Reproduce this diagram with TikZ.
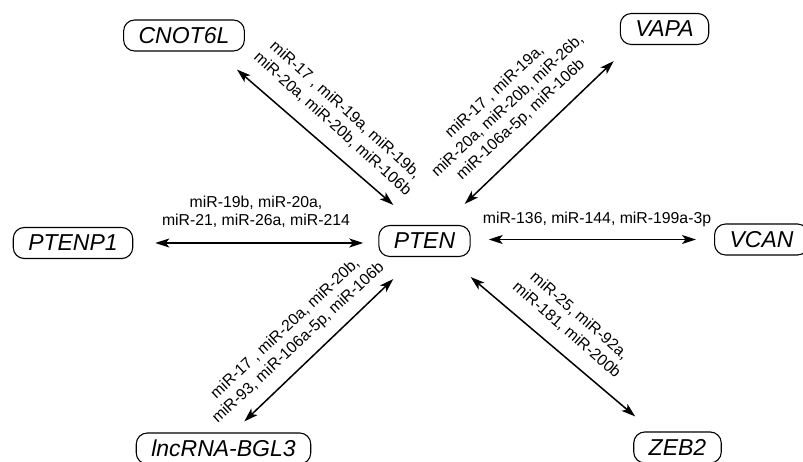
\documentclass[tikz,border=0pt]{standalone}
\usepackage{fontspec}
\setmainfont{Liberation Sans}
\usetikzlibrary{arrows.meta,calc}
\begin{document}
\begin{tikzpicture}[x=1pt,y=-1pt,
  gene/.style={draw, line width=1.1pt, rounded corners=11pt, minimum height=31pt,
    inner xsep=15pt, inner ysep=0pt, font=\fontsize{23}{23}\selectfont\itshape},
  tip/.tip={Stealth[length=14pt,width=9pt,inset=3.5pt]},
  link/.style={line width=1.5pt, tip-tip},
  mir/.style={font=\fontsize{15.8}{18}\selectfont, align=center, inner sep=0pt},
  rmir/.style={mir, font=\fontsize{15.8}{19}\selectfont}]
\path[use as bounding box] (0,0) rectangle (803,462);

\node[gene] (CNOT6L) at (184,35.5) {CNOT6L};
\node[gene] (VAPA) at (664.5,29) {VAPA};
\node[gene] (PTENP1) at (73,243) {PTENP1};
\node[gene] (PTEN) at (424.5,241) {PTEN};
\node[gene] (VCAN) at (761.5,239.5) {VCAN};
\node[gene] (BGL3) at (223.5,448.5) {lncRNA-BGL3};
\node[gene] (ZEB2) at (677.5,447.5) {ZEB2};

\draw[link] ([shift={(-8,18)}]CNOT6L.south east) -- ([shift={(15,-20)}]PTEN.north west);
\draw[link] ([shift={(-6,16)}]VAPA.south west) -- ([shift={(-6,-21)}]PTEN.north east);
\draw[link] ($(PTENP1.east)+(22,0)$) -- ($(PTEN.west |- PTENP1.east)+(-15,0)$);
\draw[link] ($(PTEN.east |- VCAN.west)+(18,0)$) -- ($(VCAN.west)+(-18,0)$);
\draw[link] ([shift={(-67,-11)}]BGL3.north east) -- ([shift={(15,22)}]PTEN.south west);
\draw[link] ([shift={(0,20)}]PTEN.south east) -- ([shift={(2,-15)}]ZEB2.north west);

\node[rmir] (lCN) at (339,117) [rotate=-42] {miR-17 , miR-19a, miR-19b,\\miR-20a, miR-20b, miR-106b};
\node[rmir] (lVA) at (508,106) [rotate=43] {miR-17 , miR-19a,\\miR-20a, miR-20b, miR-26b,\\miR-106a-5p, miR-106b};
\node[mir] (lPP) at (256,212) {miR-19b, miR-20a,\\miR-21, miR-26a, miR-214};
\node[mir] (lVC) at (597,219) {miR-136, miR-144, miR-199a-3p};
\node[rmir] (lBG) at (292,336) [rotate=43] {miR-17 , miR-20a, miR-20b,\\miR-93, miR-106a-5p, miR-106b};
\node[rmir] (lZE) at (573,323) [rotate=-41] {miR-25, miR-92a,\\miR-181, miR-200b};
\end{tikzpicture}
\end{document}
